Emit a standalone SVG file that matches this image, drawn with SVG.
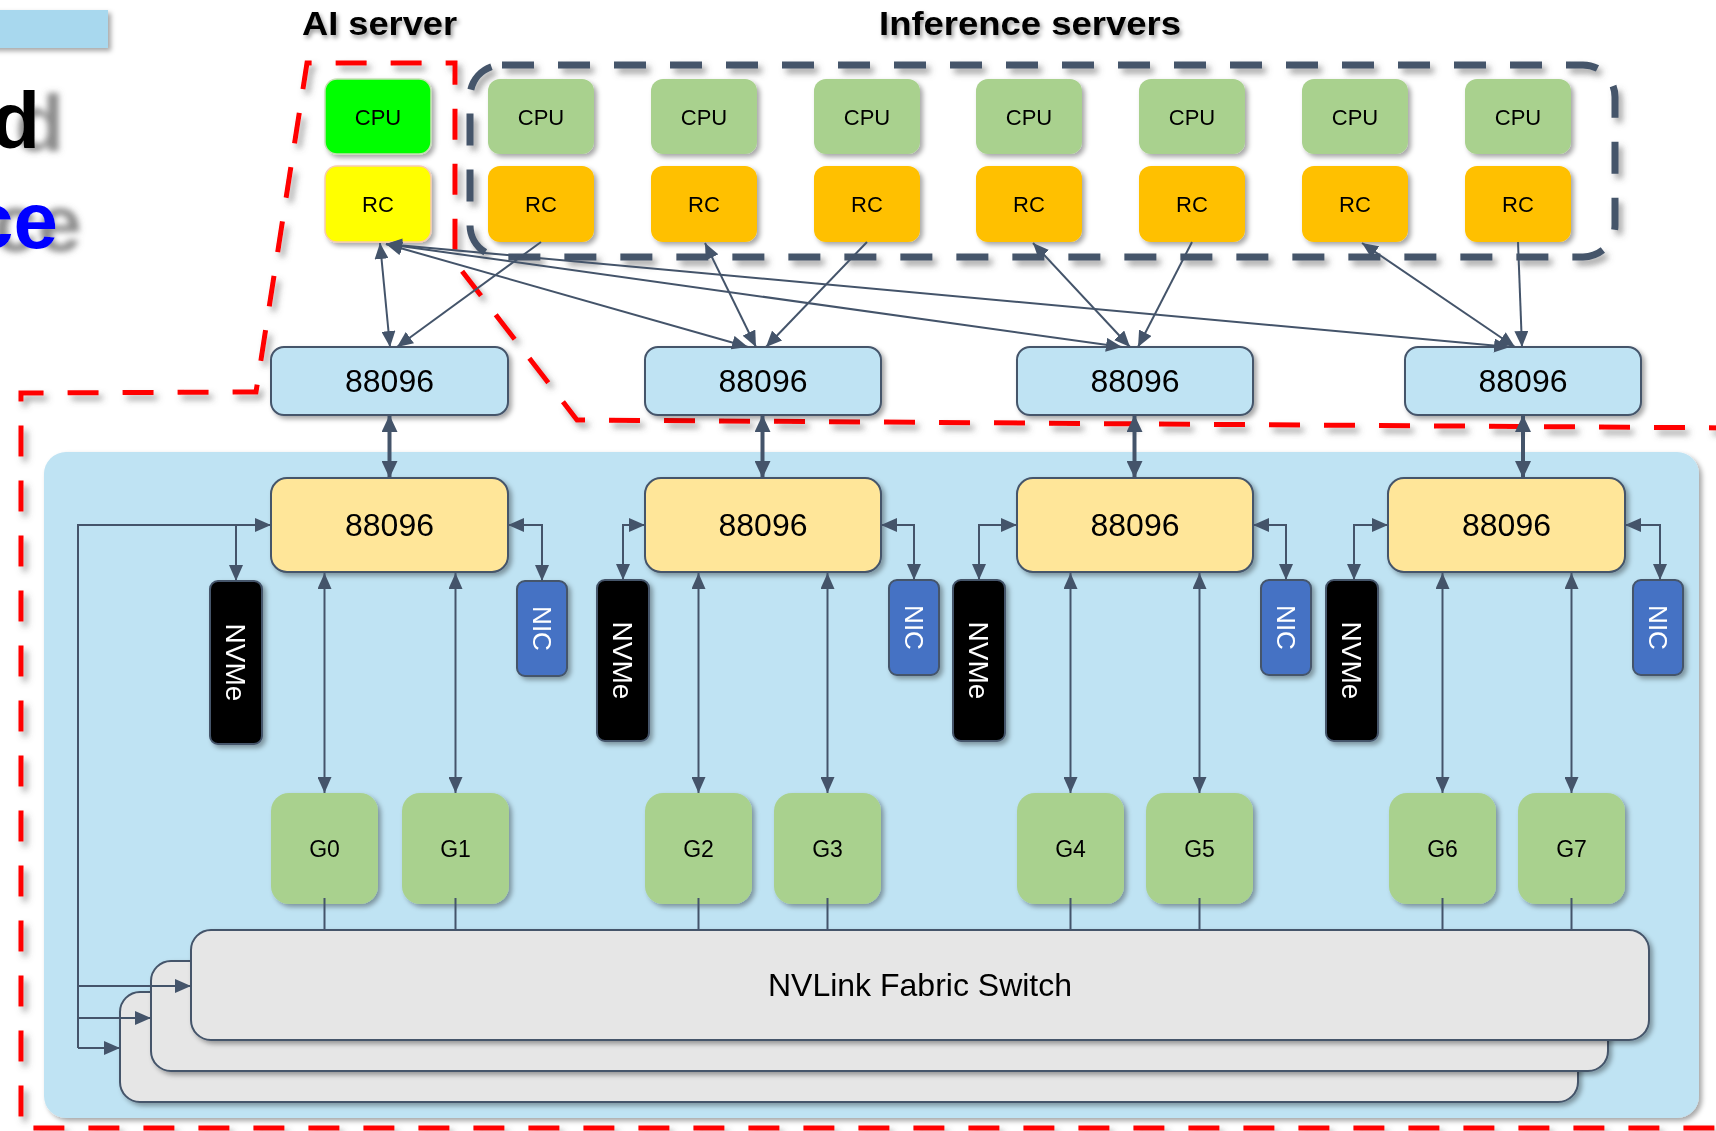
<svg xmlns="http://www.w3.org/2000/svg" width="1716" height="1131" viewBox="0 0 1716 1131">
<defs>
<style>
.t{font-family:"Liberation Sans",Arial,sans-serif;fill:#000}
.box{stroke:#44546A;stroke-width:2}
.ln{stroke:#44546A;stroke-width:2;fill:none}
.thk{stroke:#44546A;stroke-width:4;fill:none}
.cpu{fill:#A9D18E}
.rc{fill:#FFC000}
.gpu{fill:#A9D18E}
.ub{fill:#BFE3F3}
.ib{fill:#FFE699}
.sw{fill:#E6E6E6}
.nvme{fill:#000}
.nic{fill:#4472C4}
.wt{font-family:"Liberation Sans",Arial,sans-serif;fill:#fff}
</style>
<filter id="sh" filterUnits="userSpaceOnUse" x="-50" y="-50" width="1816" height="1231">
<feDropShadow dx="3" dy="3" stdDeviation="2.5" flood-color="#000" flood-opacity="0.35"/>
</filter>
<filter id="dsh" filterUnits="userSpaceOnUse" x="-50" y="-50" width="1816" height="1231">
<feDropShadow dx="4" dy="5" stdDeviation="3" flood-color="#555" flood-opacity="0.55"/>
</filter>
<filter id="tsh" filterUnits="userSpaceOnUse" x="-50" y="-50" width="1816" height="1231">
<feDropShadow dx="2" dy="3" stdDeviation="2" flood-color="#000" flood-opacity="0.4"/>
</filter>
<filter id="bigsh" filterUnits="userSpaceOnUse" x="-50" y="-50" width="400" height="400">
<feDropShadow dx="24" dy="3" stdDeviation="3" flood-color="#666" flood-opacity="0.75"/>
</filter>
<marker id="ah" viewBox="0 0 16 14" refX="16" refY="7" markerWidth="16" markerHeight="14" markerUnits="userSpaceOnUse" orient="auto-start-reverse">
<path d="M0,0 L16,7 L0,14 z" fill="#44546A"/>
</marker>
<marker id="ahb" viewBox="0 0 17 16" refX="17" refY="8" markerWidth="17" markerHeight="16" markerUnits="userSpaceOnUse" orient="auto-start-reverse">
<path d="M0,0 L17,8 L0,16 z" fill="#44546A"/>
</marker>
</defs>

<!-- partial slide remnants -->
<g id="slide-remnants">
<rect x="-10" y="10" width="118" height="38" fill="#A8D8EE" filter="url(#sh)"/>
<text x="40" y="148" font-family="Liberation Sans,Arial,sans-serif" font-size="80" font-weight="bold" text-anchor="end" fill="#000" filter="url(#bigsh)">d</text>
<text x="58" y="248" font-family="Liberation Sans,Arial,sans-serif" font-size="80" font-weight="bold" text-anchor="end" fill="#0000FF" filter="url(#bigsh)">ce</text>
</g>

<!-- server panel -->
<g id="panel">
<rect x="44" y="452" width="1655" height="666" rx="22" fill="#BFE3F3" filter="url(#sh)"/>
</g>

<!-- boundaries -->
<g id="ai-boundary">
<path d="M1740,428 L577,420 L455,262 L455,63 L307,63 L256,392 L21,393 L21,1128 L1740,1128" fill="none" stroke="#FF0000" stroke-width="5" stroke-dasharray="31 24" filter="url(#dsh)"/>
</g>
<g id="inference-boundary">
<rect x="470" y="65" width="1145" height="192" rx="32" fill="none" stroke="#44546A" stroke-width="7" stroke-dasharray="32 24" filter="url(#dsh)"/>
</g>

<!-- titles -->
<g id="titles" filter="url(#tsh)">
<text class="t" x="302" y="35" font-size="34" font-weight="bold" textLength="155" lengthAdjust="spacingAndGlyphs">AI server</text>
<text class="t" x="879" y="35" font-size="34" font-weight="bold" textLength="302" lengthAdjust="spacingAndGlyphs">Inference servers</text>
</g>

<!-- AI server CPU/RC -->
<g id="ai-cpu" filter="url(#sh)">
<rect x="325" y="79" width="106" height="75" rx="12" fill="#00FF00" stroke="#C5E0B4" stroke-width="1.5"/>
<text class="t" x="378" y="124.5" font-size="22" text-anchor="middle">CPU</text>
</g>
<g id="ai-rc" filter="url(#sh)">
<rect x="325" y="166" width="106" height="76" rx="12" fill="#FFFF00" stroke="#F8CBAD" stroke-width="1.5"/>
<text class="t" x="378" y="211.5" font-size="22" text-anchor="middle">RC</text>
</g>

<!-- inference CPUs/RCs -->
<g id="inf-cpu-1" filter="url(#sh)"><rect class="cpu" x="488" y="79" width="106" height="75" rx="12"/><text class="t" x="541" y="124.5" font-size="22" text-anchor="middle">CPU</text></g>
<g id="inf-cpu-2" filter="url(#sh)"><rect class="cpu" x="651" y="79" width="106" height="75" rx="12"/><text class="t" x="704" y="124.5" font-size="22" text-anchor="middle">CPU</text></g>
<g id="inf-cpu-3" filter="url(#sh)"><rect class="cpu" x="814" y="79" width="106" height="75" rx="12"/><text class="t" x="867" y="124.5" font-size="22" text-anchor="middle">CPU</text></g>
<g id="inf-cpu-4" filter="url(#sh)"><rect class="cpu" x="976" y="79" width="106" height="75" rx="12"/><text class="t" x="1029" y="124.5" font-size="22" text-anchor="middle">CPU</text></g>
<g id="inf-cpu-5" filter="url(#sh)"><rect class="cpu" x="1139" y="79" width="106" height="75" rx="12"/><text class="t" x="1192" y="124.5" font-size="22" text-anchor="middle">CPU</text></g>
<g id="inf-cpu-6" filter="url(#sh)"><rect class="cpu" x="1302" y="79" width="106" height="75" rx="12"/><text class="t" x="1355" y="124.5" font-size="22" text-anchor="middle">CPU</text></g>
<g id="inf-cpu-7" filter="url(#sh)"><rect class="cpu" x="1465" y="79" width="106" height="75" rx="12"/><text class="t" x="1518" y="124.5" font-size="22" text-anchor="middle">CPU</text></g>

<g id="inf-rc-1" filter="url(#sh)"><rect class="rc" x="488" y="166" width="106" height="76" rx="12"/><text class="t" x="541" y="211.5" font-size="22" text-anchor="middle">RC</text></g>
<g id="inf-rc-2" filter="url(#sh)"><rect class="rc" x="651" y="166" width="106" height="76" rx="12"/><text class="t" x="704" y="211.5" font-size="22" text-anchor="middle">RC</text></g>
<g id="inf-rc-3" filter="url(#sh)"><rect class="rc" x="814" y="166" width="106" height="76" rx="12"/><text class="t" x="867" y="211.5" font-size="22" text-anchor="middle">RC</text></g>
<g id="inf-rc-4" filter="url(#sh)"><rect class="rc" x="976" y="166" width="106" height="76" rx="12"/><text class="t" x="1029" y="211.5" font-size="22" text-anchor="middle">RC</text></g>
<g id="inf-rc-5" filter="url(#sh)"><rect class="rc" x="1139" y="166" width="106" height="76" rx="12"/><text class="t" x="1192" y="211.5" font-size="22" text-anchor="middle">RC</text></g>
<g id="inf-rc-6" filter="url(#sh)"><rect class="rc" x="1302" y="166" width="106" height="76" rx="12"/><text class="t" x="1355" y="211.5" font-size="22" text-anchor="middle">RC</text></g>
<g id="inf-rc-7" filter="url(#sh)"><rect class="rc" x="1465" y="166" width="106" height="76" rx="12"/><text class="t" x="1518" y="211.5" font-size="22" text-anchor="middle">RC</text></g>

<!-- upper 88096 switches -->
<g id="sw-up-1" filter="url(#sh)"><rect class="ub box" x="271" y="347" width="237" height="68" rx="13"/><text class="t" x="389.5" y="392" font-size="32" text-anchor="middle">88096</text></g>
<g id="sw-up-2" filter="url(#sh)"><rect class="ub box" x="645" y="347" width="236" height="68" rx="13"/><text class="t" x="763" y="392" font-size="32" text-anchor="middle">88096</text></g>
<g id="sw-up-3" filter="url(#sh)"><rect class="ub box" x="1017" y="347" width="236" height="68" rx="13"/><text class="t" x="1135" y="392" font-size="32" text-anchor="middle">88096</text></g>
<g id="sw-up-4" filter="url(#sh)"><rect class="ub box" x="1405" y="347" width="236" height="68" rx="13"/><text class="t" x="1523" y="392" font-size="32" text-anchor="middle">88096</text></g>

<!-- inner 88096 switches -->
<g id="sw-in-1" filter="url(#sh)"><rect class="ib box" x="271" y="478" width="237" height="94" rx="16"/><text class="t" x="389.5" y="536" font-size="32" text-anchor="middle">88096</text></g>
<g id="sw-in-2" filter="url(#sh)"><rect class="ib box" x="645" y="478" width="236" height="94" rx="16"/><text class="t" x="763" y="536" font-size="32" text-anchor="middle">88096</text></g>
<g id="sw-in-3" filter="url(#sh)"><rect class="ib box" x="1017" y="478" width="236" height="94" rx="16"/><text class="t" x="1135" y="536" font-size="32" text-anchor="middle">88096</text></g>
<g id="sw-in-4" filter="url(#sh)"><rect class="ib box" x="1388" y="478" width="237" height="94" rx="16"/><text class="t" x="1506.5" y="536" font-size="32" text-anchor="middle">88096</text></g>

<!-- NVMe -->
<g id="nvme-1" filter="url(#sh)"><rect class="nvme box" x="210" y="581" width="52" height="163" rx="8"/><text class="wt" font-size="28" text-anchor="middle" transform="translate(236,662.5) rotate(90)" y="10">NVMe</text></g>
<g id="nvme-2" filter="url(#sh)"><rect class="nvme box" x="597" y="580" width="52" height="161" rx="8"/><text class="wt" font-size="28" text-anchor="middle" transform="translate(623,660.5) rotate(90)" y="10">NVMe</text></g>
<g id="nvme-3" filter="url(#sh)"><rect class="nvme box" x="953" y="580" width="52" height="161" rx="8"/><text class="wt" font-size="28" text-anchor="middle" transform="translate(979,660.5) rotate(90)" y="10">NVMe</text></g>
<g id="nvme-4" filter="url(#sh)"><rect class="nvme box" x="1326" y="580" width="52" height="161" rx="8"/><text class="wt" font-size="28" text-anchor="middle" transform="translate(1352,660.5) rotate(90)" y="10">NVMe</text></g>

<!-- NIC -->
<g id="nic-1" filter="url(#sh)"><rect class="nic box" x="517" y="581" width="50" height="95" rx="8"/><text class="wt" font-size="26" text-anchor="middle" transform="translate(542,628.5) rotate(90)" y="9">NIC</text></g>
<g id="nic-2" filter="url(#sh)"><rect class="nic box" x="889" y="580" width="50" height="95" rx="8"/><text class="wt" font-size="26" text-anchor="middle" transform="translate(914,627.5) rotate(90)" y="9">NIC</text></g>
<g id="nic-3" filter="url(#sh)"><rect class="nic box" x="1261" y="580" width="50" height="95" rx="8"/><text class="wt" font-size="26" text-anchor="middle" transform="translate(1286,627.5) rotate(90)" y="9">NIC</text></g>
<g id="nic-4" filter="url(#sh)"><rect class="nic box" x="1633" y="580" width="50" height="95" rx="8"/><text class="wt" font-size="26" text-anchor="middle" transform="translate(1658,627.5) rotate(90)" y="9">NIC</text></g>

<!-- GPUs -->
<g id="g0" filter="url(#sh)"><rect class="gpu" x="271" y="793" width="107" height="111" rx="18"/><text class="t" x="324.5" y="856.5" font-size="23" text-anchor="middle">G0</text></g>
<g id="g1" filter="url(#sh)"><rect class="gpu" x="402" y="793" width="107" height="111" rx="18"/><text class="t" x="455.5" y="856.5" font-size="23" text-anchor="middle">G1</text></g>
<g id="g2" filter="url(#sh)"><rect class="gpu" x="645" y="793" width="107" height="111" rx="18"/><text class="t" x="698.5" y="856.5" font-size="23" text-anchor="middle">G2</text></g>
<g id="g3" filter="url(#sh)"><rect class="gpu" x="774" y="793" width="107" height="111" rx="18"/><text class="t" x="827.5" y="856.5" font-size="23" text-anchor="middle">G3</text></g>
<g id="g4" filter="url(#sh)"><rect class="gpu" x="1017" y="793" width="107" height="111" rx="18"/><text class="t" x="1070.5" y="856.5" font-size="23" text-anchor="middle">G4</text></g>
<g id="g5" filter="url(#sh)"><rect class="gpu" x="1146" y="793" width="107" height="111" rx="18"/><text class="t" x="1199.5" y="856.5" font-size="23" text-anchor="middle">G5</text></g>
<g id="g6" filter="url(#sh)"><rect class="gpu" x="1389" y="793" width="107" height="111" rx="18"/><text class="t" x="1442.5" y="856.5" font-size="23" text-anchor="middle">G6</text></g>
<g id="g7" filter="url(#sh)"><rect class="gpu" x="1518" y="793" width="107" height="111" rx="18"/><text class="t" x="1571.5" y="856.5" font-size="23" text-anchor="middle">G7</text></g>

<!-- NVLink switches -->
<g id="nvlink-back" filter="url(#sh)"><rect class="sw box" x="120" y="992" width="1458" height="110" rx="20"/></g>
<g id="nvlink-middle" filter="url(#sh)"><rect class="sw box" x="151" y="961" width="1457" height="110" rx="20"/></g>
<g id="nvlink-front" filter="url(#sh)"><rect class="sw box" x="191" y="930" width="1458" height="110" rx="20"/><text class="t" x="920" y="996" font-size="32" text-anchor="middle">NVLink Fabric Switch</text></g>

<!-- connectors -->
<g id="connectors">
<line class="ln" x1="380" y1="243" x2="390" y2="347" marker-start="url(#ah)" marker-end="url(#ah)"/>
<line class="ln" x1="386" y1="244" x2="748" y2="347" marker-start="url(#ah)" marker-end="url(#ah)"/>
<line class="ln" x1="386" y1="244" x2="1122" y2="347" marker-start="url(#ah)" marker-end="url(#ah)"/>
<line class="ln" x1="386" y1="244" x2="1510" y2="347" marker-start="url(#ah)" marker-end="url(#ah)"/>
<line class="ln" x1="541" y1="242" x2="397" y2="347" marker-end="url(#ah)"/>
<line class="ln" x1="705" y1="243" x2="756" y2="347" marker-start="url(#ah)" marker-end="url(#ah)"/>
<line class="ln" x1="867" y1="242" x2="766" y2="347" marker-end="url(#ah)"/>
<line class="ln" x1="1033" y1="243" x2="1130" y2="347" marker-start="url(#ah)" marker-end="url(#ah)"/>
<line class="ln" x1="1192" y1="242" x2="1138" y2="347" marker-end="url(#ah)"/>
<line class="ln" x1="1362" y1="243" x2="1515" y2="347" marker-start="url(#ah)" marker-end="url(#ah)"/>
<line class="ln" x1="1518" y1="242" x2="1522" y2="347" marker-end="url(#ah)"/>
<line class="thk" x1="389.5" y1="415" x2="389.5" y2="478" marker-start="url(#ahb)" marker-end="url(#ahb)"/>
<line class="thk" x1="762.5" y1="415" x2="762.5" y2="478" marker-start="url(#ahb)" marker-end="url(#ahb)"/>
<line class="thk" x1="1134.5" y1="415" x2="1134.5" y2="478" marker-start="url(#ahb)" marker-end="url(#ahb)"/>
<line class="thk" x1="1523" y1="415" x2="1523" y2="478" marker-start="url(#ahb)" marker-end="url(#ahb)"/>
<path class="ln" d="M78,1048 V525 H271" marker-end="url(#ah)"/>
<path class="ln" d="M236,524 V581" marker-end="url(#ah)"/>
<path class="ln" d="M78,986 H191" marker-end="url(#ah)"/>
<path class="ln" d="M79,1018 H151" marker-end="url(#ah)"/>
<path class="ln" d="M78,1048 H120" marker-end="url(#ah)"/>
<path class="ln" d="M623,580 V525 H645" marker-start="url(#ah)" marker-end="url(#ah)"/>
<path class="ln" d="M979,580 V525 H1017" marker-start="url(#ah)" marker-end="url(#ah)"/>
<path class="ln" d="M1354,580 V525 H1388" marker-start="url(#ah)" marker-end="url(#ah)"/>
<path class="ln" d="M542,581 V525 H508" marker-start="url(#ah)" marker-end="url(#ah)"/>
<path class="ln" d="M914,580 V525 H881" marker-start="url(#ah)" marker-end="url(#ah)"/>
<path class="ln" d="M1286,580 V525 H1253" marker-start="url(#ah)" marker-end="url(#ah)"/>
<path class="ln" d="M1660,580 V525 H1625" marker-start="url(#ah)" marker-end="url(#ah)"/>
<line class="ln" x1="324.5" y1="573" x2="324.5" y2="793" marker-start="url(#ah)" marker-end="url(#ah)"/>
<line class="ln" x1="455.5" y1="573" x2="455.5" y2="793" marker-start="url(#ah)" marker-end="url(#ah)"/>
<line class="ln" x1="698.5" y1="573" x2="698.5" y2="793" marker-start="url(#ah)" marker-end="url(#ah)"/>
<line class="ln" x1="827.5" y1="573" x2="827.5" y2="793" marker-start="url(#ah)" marker-end="url(#ah)"/>
<line class="ln" x1="1070.5" y1="573" x2="1070.5" y2="793" marker-start="url(#ah)" marker-end="url(#ah)"/>
<line class="ln" x1="1199.5" y1="573" x2="1199.5" y2="793" marker-start="url(#ah)" marker-end="url(#ah)"/>
<line class="ln" x1="1442.5" y1="573" x2="1442.5" y2="793" marker-start="url(#ah)" marker-end="url(#ah)"/>
<line class="ln" x1="1571.5" y1="573" x2="1571.5" y2="793" marker-start="url(#ah)" marker-end="url(#ah)"/>
<path class="ln" d="M324.5,898 V930 M455.5,898 V930 M698.5,898 V930 M827.5,898 V930 M1070.5,898 V930 M1199.5,898 V930 M1442.5,898 V930 M1571.5,898 V930"/>
</g>
</svg>
